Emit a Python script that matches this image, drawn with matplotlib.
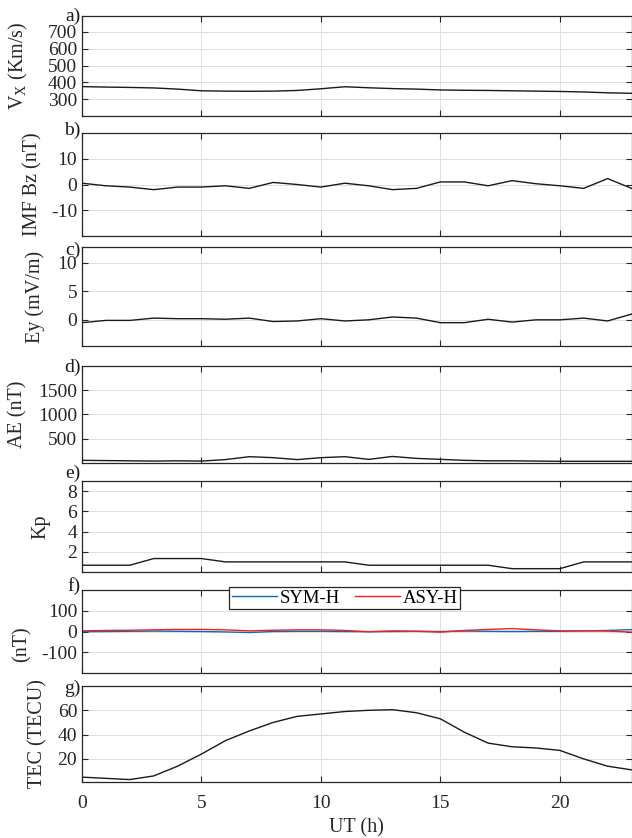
import matplotlib
matplotlib.use("Agg")
import matplotlib.pyplot as plt
import numpy as np

plt.rcParams['font.family'] = ['Liberation Serif', 'DejaVu Serif']
plt.rcParams['mathtext.fontset'] = 'custom'
plt.rcParams['mathtext.rm'] = 'Liberation Serif'
plt.rcParams['axes.unicode_minus'] = False
plt.rcParams['font.size'] = 14

# ---------------- data (hourly, UT 0..23) ----------------
ut = list(range(24))
vx = [375, 372, 370, 367, 360, 350, 348, 347, 348, 352, 362, 374,
      368, 363, 360, 355, 353, 352, 350, 348, 346, 343, 338, 335]
bz = [0.5, -0.5, -1, -2, -1, -1, -0.5, -1.5, 0.8, 0, -1, 0.5,
      -0.5, -2, -1.5, 1, 1, -0.5, 1.5, 0.3, -0.5, -1.5, 2.3, -1.5]
ey = [-0.5, -0.1, -0.1, 0.3, 0.2, 0.2, 0.1, 0.3, -0.3, -0.2, 0.2, -0.2,
      0.0, 0.5, 0.3, -0.5, -0.5, 0.1, -0.4, 0.0, 0.0, 0.3, -0.2, 1.0]
ae = [55, 50, 45, 40, 45, 40, 70, 130, 110, 70, 110, 130,
      75, 135, 95, 75, 55, 45, 45, 40, 35, 35, 35, 35]
kp = [0.67, 0.67, 0.67, 1.33, 1.33, 1.33, 1.0, 1.0, 1.0, 1.0, 1.0, 1.0,
      0.67, 0.67, 0.67, 0.67, 0.67, 0.67, 0.33, 0.33, 0.33, 1.0, 1.0, 1.0]
symh = [-1, 0, 1, 2, 1, 0, -2, -5, 0, 1, 1, 0,
        -1, 0, 1, 0, 2, 1, 0, 1, 1, 3, 5, 9]
asyh = [3, 5, 6, 8, 10, 10, 8, 3, 6, 8, 8, 5,
        -1, 3, 1, -3, 5, 10, 14, 8, 3, 3, 2, -3]
tec = [5, 4, 3, 6, 14, 24, 35, 43, 50, 55, 57, 59,
       60, 60.5, 58, 53, 42, 33, 30, 29, 27, 20, 14, 11]

panel_letters = ['a)', 'b)', 'c)', 'd)', 'e)', 'f)', 'g)']
ylabels = [r'V$_{\rm X}$ (Km/s)', 'IMF Bz (nT)', 'Ey (mV/m)', 'AE (nT)',
           'Kp', '(nT)', 'TEC (TECU)']
yticks = [[300, 400, 500, 600, 700], [-10, 0, 10], [0, 5, 10],
          [500, 1000, 1500], [2, 4, 6, 8], [-100, 0, 100], [20, 40, 60]]
ylims = [(200, 795), (-20, 20), (-4.6, 12.8), (0, 2000), (0, 9),
         (-200, 200), (1, 80)]
xticks = [0, 5, 10, 15, 20]

# ---------------- layout (pixel extents) ----------------
W, H = 632, 838
fig = plt.figure(figsize=(W / 100, H / 100), dpi=100)
left_px, right_px = 82, 631.5
panels_px = [(16, 116), (133, 236), (247, 346), (366, 463),
             (481, 572), (590, 673), (686, 782)]
label_x_px = [18, 33, 35, 18, 41, 22, 38]   # centre of the rotated label
label_y_frac = [0.5, 0.5, 0.5, 0.5, 0.5, 0.35, 0.5]
letter_dy_px = [0, -3, 3, 1, -8, -4, 2]     # letter centre offset from top spine

series = [vx, bz, ey, ae, kp, None, tec]
axes = []
for i, (t, b) in enumerate(panels_px):
    ax = fig.add_axes([left_px / W, 1 - b / H, (right_px - left_px) / W, (b - t) / H])
    axes.append(ax)
    ax.set_xlim(0, 23)
    ax.set_ylim(*ylims[i])
    ax.set_xticks(xticks)
    ax.set_yticks(yticks[i])
    ax.grid(True, color='#dedede', linewidth=0.7)
    ax.set_axisbelow(True)
    ax.tick_params(direction='in', top=True, right=True, length=4,
                   width=0.8, color='#262626', labelsize=14,
                   labelcolor='#262626')
    ax.tick_params(axis='y', pad=3.5)
    ax.tick_params(axis='x', pad=9)
    for sp in ax.spines.values():
        sp.set_color('#262626')
        sp.set_linewidth(0.9)
    if i < 6:
        ax.tick_params(labelbottom=False)
    if series[i] is not None:
        ax.plot(ut, series[i], color='#1a1a1a', linewidth=1.0)
    ax.set_ylabel(ylabels[i], fontsize=14.5, color='#262626', va='center')
    ax.yaxis.set_label_coords((label_x_px[i] - left_px) / (right_px - left_px),
                              label_y_frac[i])
    ax.text(-0.002, 1.0 - letter_dy_px[i] / (b - t), panel_letters[i],
            transform=ax.transAxes, ha='right', va='center',
            fontsize=14, color='#1a1a1a')

# panel f: SYM-H / ASY-H
axf = axes[5]
axf.plot(ut, symh, color='#0072BD', linewidth=1.0, label='SYM-H')
axf.plot(ut, asyh, color='#FF1A1A', linewidth=1.0, label='ASY-H')
leg = axf.legend(loc='upper center', bbox_to_anchor=(0.478, 1.04), ncol=2,
                 frameon=True, fancybox=False, edgecolor='#262626',
                 framealpha=1, fontsize=13.5, handlelength=2.4,
                 handletextpad=0.15, columnspacing=0.8, borderpad=0.15,
                 borderaxespad=0.0)
leg.get_frame().set_linewidth(0.9)

axes[6].set_xlabel('UT (h)', fontsize=14.5, color='#262626', labelpad=5)

fig.savefig('out.png', dpi=100)
